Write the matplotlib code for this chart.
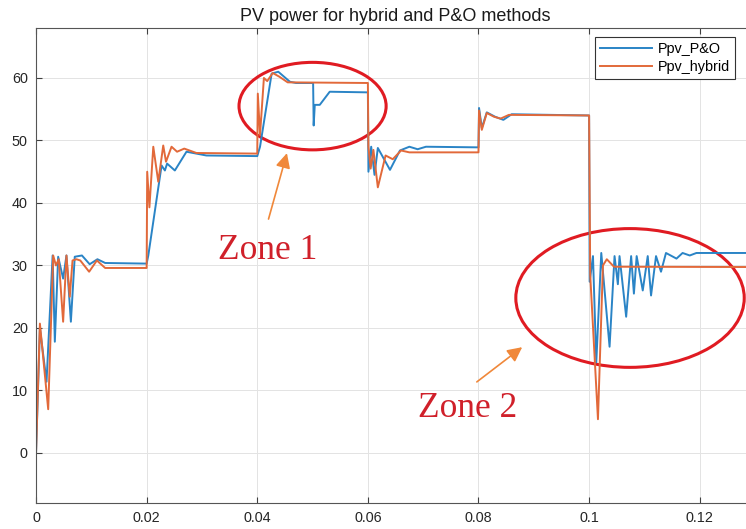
import matplotlib
matplotlib.use("Agg")
import matplotlib.pyplot as plt
from matplotlib.patches import Ellipse

plt.rcParams['font.family'] = ['Liberation Sans', 'DejaVu Sans']

# P&O method (time in s, power in W)
t_po = [0, 0.0007, 0.0019, 0.0030, 0.0034, 0.0040, 0.0049, 0.0055, 0.0063, 0.0070,
        0.0083, 0.0097, 0.0111, 0.0125, 0.0200, 0.0203, 0.0227, 0.0233, 0.0237, 0.0251,
        0.0272, 0.0308, 0.0400, 0.0405, 0.0426, 0.0438, 0.0459, 0.0470, 0.0501, 0.0502,
        0.0504, 0.0513, 0.0531, 0.0600, 0.0601, 0.0606, 0.0612, 0.0618, 0.0640, 0.0658,
        0.0675, 0.0690, 0.0705, 0.0800, 0.0801, 0.0806, 0.0815, 0.0830, 0.0845, 0.0860,
        0.1000, 0.1001, 0.1007, 0.1013, 0.1022, 0.1037, 0.1046, 0.1052, 0.1055, 0.1067,
        0.1076, 0.1081, 0.1086, 0.1097, 0.1106, 0.1112, 0.1121, 0.1130, 0.1139, 0.1158,
        0.1169, 0.1182, 0.1194, 0.1300]
p_po = [0, 20.0, 11.4, 31.6, 17.8, 31.4, 27.9, 31.6, 21.0, 31.4,
        31.6, 30.2, 31.0, 30.4, 30.3, 31.6, 46.0, 45.2, 46.3, 45.2,
        48.2, 47.6, 47.5, 49.0, 60.7, 61.0, 59.4, 59.2, 59.2, 52.4,
        55.7, 55.7, 57.8, 57.7, 45.0, 49.0, 44.5, 48.8, 45.3, 48.4,
        49.0, 48.6, 49.0, 48.9, 55.2, 52.0, 54.5, 53.8, 53.3, 54.2,
        54.0, 27.4, 31.5, 14.5, 32.0, 17.0, 31.5, 27.0, 31.5, 21.8,
        31.5, 25.5, 31.5, 26.0, 31.5, 25.2, 31.5, 29.0, 32.0, 31.1,
        32.0, 31.6, 32.0, 32.0]

# hybrid method
t_hy = [0, 0.0007, 0.0022, 0.0031, 0.0036, 0.0041, 0.0049, 0.0055, 0.0061, 0.0066,
        0.0073, 0.0080, 0.0096, 0.0110, 0.0125, 0.0200, 0.0201, 0.0205, 0.0212, 0.0221,
        0.0230, 0.0235, 0.0245, 0.0255, 0.0268, 0.0290, 0.0400, 0.0401, 0.0405, 0.0412,
        0.0418, 0.0428, 0.0440, 0.0455, 0.0600, 0.0601, 0.0605, 0.0610, 0.0618, 0.0632,
        0.0645, 0.0660, 0.0675, 0.0800, 0.0801, 0.0806, 0.0815, 0.0828, 0.0840, 0.0855,
        0.1000, 0.1002, 0.1016, 0.1025, 0.1032, 0.1045, 0.1300]
p_hy = [0, 20.7, 7.0, 31.6, 30.0, 31.0, 21.0, 31.6, 25.0, 30.8,
        31.0, 30.8, 29.0, 30.8, 29.6, 29.6, 45.0, 39.3, 49.0, 43.4,
        49.2, 46.6, 49.0, 48.2, 48.7, 48.0, 47.9, 57.5, 50.9, 60.0,
        59.5, 60.8, 60.2, 59.3, 59.2, 49.0, 45.5, 48.5, 42.5, 47.6,
        47.0, 48.4, 48.1, 48.1, 54.8, 51.7, 54.4, 53.8, 53.5, 54.1,
        54.0, 28.5, 5.4, 30.0, 31.0, 29.8, 29.75]

x_ticks = [0, 0.02, 0.04, 0.06, 0.08, 0.1, 0.12]
x_tick_labels = ['0', '0.02', '0.04', '0.06', '0.08', '0.1', '0.12']
y_ticks = [0, 10, 20, 30, 40, 50, 60]

BLUE = '#2A84C6'
ORANGE = '#E2693A'
RED = '#E01B22'
ARROW = '#F0883A'

fig = plt.figure(figsize=(7.46, 5.29), dpi=100)
# axes run a little past the right edge, like the cropped original
ax = fig.add_axes([0.0483, 0.0492, 0.9638, 0.8979])

ax.plot(t_po, p_po, color=BLUE, lw=1.4, label='Ppv_P&O')
ax.plot(t_hy, p_hy, color=ORANGE, lw=1.4, label='Ppv_hybrid')

ax.set_xlim(0, 0.13)
ax.set_ylim(-8, 68)
ax.set_xticks(x_ticks)
ax.set_xticklabels(x_tick_labels)
ax.set_yticks(y_ticks)
ax.grid(True, color='#e3e3e3', lw=0.7)
ax.set_axisbelow(True)
ax.tick_params(direction='in', length=4, top=True, right=True,
               labelsize=10.4, colors='#404040', labelcolor='#262626', pad=6)
for s in ax.spines.values():
    s.set_color('#555555')
    s.set_linewidth(0.8)

ax.set_title('PV power for hybrid and P&O methods', fontsize=13, color='#1a1a1a', pad=5)

leg = ax.legend(loc='upper right', bbox_to_anchor=(0.972, 0.981), borderaxespad=0,
                fontsize=10.4, handlelength=3.6, handletextpad=0.4, labelspacing=0.3,
                borderpad=0.35, fancybox=False, framealpha=1)
leg.get_frame().set_edgecolor('#333333')
leg.get_frame().set_linewidth(0.8)

# zone highlights
ax.add_patch(Ellipse((0.0500, 55.5), 0.0266, 14.0, fill=False, ec=RED, lw=2.2))
ax.add_patch(Ellipse((0.1074, 24.8), 0.0413, 22.2, fill=False, ec=RED, lw=2.2))

ax.annotate('', xy=(0.0455, 48.4), xytext=(0.0419, 37.0),
            arrowprops=dict(arrowstyle='-|>', color=ARROW, lw=1.2, mutation_scale=22))
ax.annotate('', xy=(0.0883, 17.2), xytext=(0.0793, 11.1),
            arrowprops=dict(arrowstyle='-|>', color=ARROW, lw=1.2, mutation_scale=22))

ax.text(0.0418, 31.1, 'Zone 1', family='Liberation Serif', fontsize=25.5,
        color='#D0202A', ha='center', va='baseline')
ax.text(0.0780, 5.8, 'Zone 2', family='Liberation Serif', fontsize=25.5,
        color='#D0202A', ha='center', va='baseline')

fig.savefig('out.png', dpi=100)
